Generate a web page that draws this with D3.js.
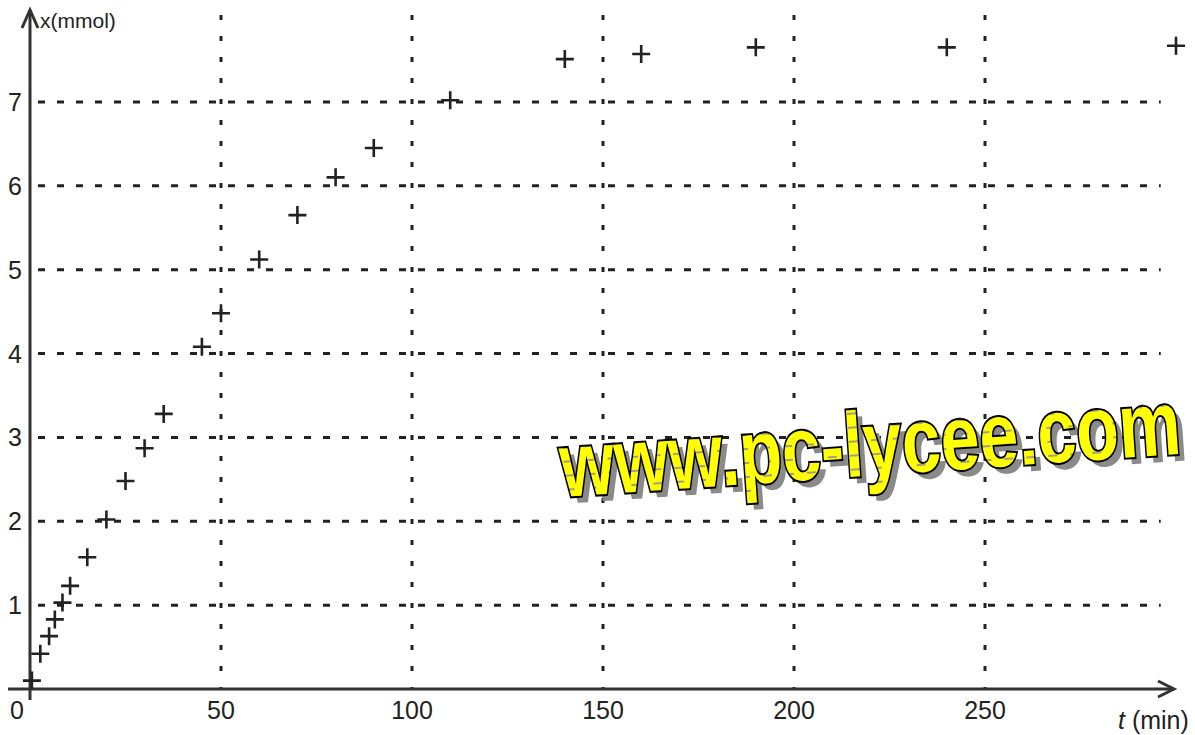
<!DOCTYPE html>
<html>
<head>
<meta charset="utf-8">
<script src="https://cdn.jsdelivr.net/npm/d3@7"></script>
<style>
  body { margin: 0; background: #fff; }
  svg { display: block; font-family: "Liberation Sans", Arial, sans-serif; }
</style>
</head>
<body>
<div class="displayContainer"></div>
<script>
// measured points, t in min, x in mmol
const times = [0.5, 2.7, 5, 6.5, 8.5, 10.5, 15, 20, 25, 30, 35, 45, 50, 60, 70, 80, 90, 110, 140, 160, 190, 240, 300];
const amounts = [0.1, 0.42, 0.63, 0.83, 1.03, 1.23, 1.57, 2.02, 2.48, 2.87, 3.28, 4.08, 4.48, 5.12, 5.65, 6.1, 6.45, 7.02, 7.51, 7.57, 7.65, 7.65, 7.67];
const xTicks = [0, 50, 100, 150, 200, 250];
const yTicks = [1, 2, 3, 4, 5, 6, 7];

const W = 1195, H = 735;

const svg = d3.select('.displayContainer')
              .append('svg')
              .attr('width', W)
              .attr('height', H);

const x = d3.scaleLinear().domain([0, 300]).range([30, 1176]);
const y = d3.scaleLinear().domain([0, 8]).range([689, 18]);

const ink = '#222';

// grid, dotted
svg.append('g').selectAll('line')
    .data(xTicks.slice(1))
    .enter()
    .append('line')
    .attr('x1', d => x(d)).attr('x2', d => x(d))
    .attr('y1', 15).attr('y2', y(0))
    .attr('stroke', ink)
    .attr('stroke-width', 3)
    .attr('stroke-dasharray', '5 16');

svg.append('g').selectAll('line')
    .data(yTicks)
    .enter()
    .append('line')
    .attr('x1', x(0) + 8).attr('x2', x(296))
    .attr('y1', d => y(d)).attr('y2', d => y(d))
    .attr('stroke', ink)
    .attr('stroke-width', 3)
    .attr('stroke-dasharray', '7 12');

// axes with open arrow heads
const axes = svg.append('g').attr('stroke', '#333').attr('stroke-width', 3).attr('fill', 'none');
axes.append('line').attr('x1', 8).attr('x2', 1174).attr('y1', y(0)).attr('y2', y(0));
axes.append('path').attr('d', `M1158,${y(0) - 8} L1174,${y(0)} L1158,${y(0) + 8}`);
axes.append('line').attr('x1', x(0)).attr('x2', x(0)).attr('y1', 700).attr('y2', 10);
axes.append('path').attr('d', `M${x(0) - 8},28 L${x(0)},10 L${x(0) + 8},28`);

// tick labels
svg.append('g').selectAll('text')
    .data(yTicks)
    .enter()
    .append('text')
    .attr('x', 22)
    .attr('y', d => y(d) + 9)
    .attr('text-anchor', 'end')
    .style('font-size', '25px')
    .attr('fill', ink)
    .text(d => d);

svg.append('g').selectAll('text')
    .data(xTicks)
    .enter()
    .append('text')
    .attr('x', d => d === 0 ? 17 : x(d))
    .attr('y', 719)
    .attr('text-anchor', 'middle')
    .style('font-size', '25px')
    .attr('fill', ink)
    .text(d => d);

svg.append('text')
    .attr('x', 40).attr('y', 28)
    .style('font-size', '21px')
    .attr('fill', ink)
    .text('x(mmol)');

const tl = svg.append('text')
    .attr('x', 1118).attr('y', 729)
    .style('font-size', '25px')
    .attr('fill', ink);
tl.append('tspan').style('font-style', 'italic').text('t');
tl.append('tspan').text(' (min)');

// data crosses
const pts = times.map((t, i) => [t, amounts[i]]);
svg.append('g').selectAll('path')
    .data(pts)
    .enter()
    .append('path')
    .attr('d', d => `M${x(d[0]) - 9},${y(d[1])} h18 M${x(d[0])},${y(d[1]) - 9} v18`)
    .attr('stroke', ink)
    .attr('stroke-width', 2.6);

// watermark
const defs = svg.append('defs');
const pat = defs.append('pattern')
    .attr('id', 'dash')
    .attr('patternUnits', 'userSpaceOnUse')
    .attr('width', 22).attr('height', 14);
pat.append('rect').attr('width', 22).attr('height', 14).attr('fill', '#ffff00');
pat.append('rect').attr('x', 4).attr('y', 6).attr('width', 9).attr('height', 2).attr('fill', '#a0a080');

const wm = svg.append('g').attr('transform', 'translate(562,497) rotate(-4)');
wm.append('text')
    .attr('x', 6).attr('y', 7)
    .attr('textLength', 622)
    .attr('lengthAdjust', 'spacingAndGlyphs')
    .style('font-size', '92px')
    .style('font-weight', 'bold')
    .attr('fill', '#8a8a8a')
    .text('www.pc-lycee.com');
wm.append('text')
    .attr('textLength', 622)
    .attr('lengthAdjust', 'spacingAndGlyphs')
    .style('font-size', '92px')
    .style('font-weight', 'bold')
    .attr('fill', 'url(#dash)')
    .attr('stroke', '#000')
    .attr('stroke-width', 4)
    .attr('paint-order', 'stroke')
    .text('www.pc-lycee.com');
</script>
</body>
</html>
